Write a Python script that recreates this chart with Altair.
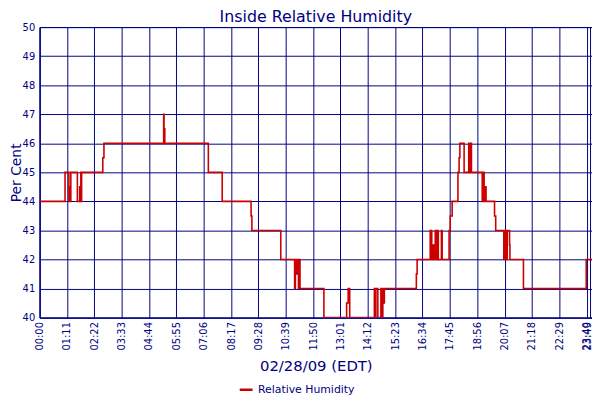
import altair as alt
import pandas as pd

NAVY = "#000080"
RED = "#cc0000"

tick_labels = ["00:00", "01:11", "02:22", "03:33", "04:44", "05:55", "07:06",
               "08:17", "09:28", "10:39", "11:50", "13:01", "14:12", "15:23",
               "16:34", "17:45", "18:56", "20:07", "21:18", "22:29", "23:40", "23:49"]
y_ticks = list(range(40, 51))

# minutes after midnight at which the reading changes
minutes = [0, 66, 76, 79, 80, 81, 98, 104, 105, 107, 108, 109, 164, 167, 322, 323,
           324, 325, 438, 474, 549, 551, 626, 662, 664, 666, 668, 672, 674, 676,
           738, 797, 801, 805, 869, 871, 873, 878, 886, 889, 891, 893, 895, 978,
           980, 1014, 1018, 1022, 1024, 1027, 1031, 1033, 1035, 1043, 1045, 1063,
           1066, 1071, 1086, 1089, 1091, 1102, 1114, 1117, 1119, 1121, 1149, 1152,
           1154, 1157, 1159, 1181, 1184, 1205, 1208, 1211, 1214, 1220, 1221, 1256,
           1419, 1434]
humidity = [44, 45, 44, 44.5, 44, 45, 44, 44.5, 44, 45, 44, 45, 45.5, 46, 47, 46,
            46.5, 46, 45, 44, 43.5, 43, 42, 41, 42, 41.5, 42, 41, 42, 41,
            40, 40.5, 41, 40, 41, 40, 41, 40, 41, 40, 41, 40.5, 41, 41.5,
            42, 43, 42, 42.5, 42, 43, 42, 43, 42, 43, 42, 43,
            43.5, 44, 45, 45.5, 46, 45, 46, 45, 46, 45, 44, 45,
            44, 44.5, 44, 43.5, 43, 42, 43, 42, 43, 42.5, 42, 41,
            42, 42]

tick_values = [int(t[:2]) * 60 + int(t[3:]) for t in tick_labels]
last_tick = tick_values[-1]

df = pd.DataFrame({"t": minutes, "v": humidity, "series": "Relative Humidity"})

label_expr = ("pad(''+floor(datum.value/60), 2, '0', 'left') + ':' + "
              "pad(''+(datum.value%60), 2, '0', 'left')")

chart = alt.Chart(df).mark_line(interpolate="step-after", strokeWidth=1.6, clip=True).encode(
    x=alt.X("t:Q",
            scale=alt.Scale(domain=[0, 1434], nice=False, zero=False),
            axis=alt.Axis(values=tick_values, labelExpr=label_expr, labelAngle=270,
                          labelAlign="right", labelBaseline="middle", ticks=False,
                          labelPadding=4, labelOverlap=False, labelFlush=False,
                          labelOffset={"condition": {"test": f"datum.value == {last_tick}",
                                                     "value": -3}, "value": 0},
                          labelFontSize=10, labelColor=NAVY,
                          grid=True, gridColor=NAVY, gridWidth=1, gridOpacity=1,
                          domainColor=NAVY, domainWidth=1,
                          title="02/28/09 (EDT)", titleFontSize=15, titleColor=NAVY,
                          titleFontWeight="normal", titlePadding=9)),
    y=alt.Y("v:Q",
            scale=alt.Scale(domain=[40, 50], nice=False, zero=False),
            axis=alt.Axis(values=y_ticks, ticks=False, labelPadding=5,
                          labelFontSize=10, labelColor=NAVY,
                          grid=True, gridColor=NAVY, gridWidth=1, gridOpacity=1,
                          domainColor=NAVY, domainWidth=1,
                          title="Per Cent", titleFontSize=14, titleColor=NAVY,
                          titleFontWeight="normal", titleX=-19, titleY=147,
                          titleBaseline="alphabetic", titleAlign="center")),
    color=alt.Color("series:N",
                    scale=alt.Scale(domain=["Relative Humidity"], range=[RED]),
                    legend=alt.Legend(title=None, orient="none", legendX=201, legendY=359,
                                      direction="horizontal", labelFontSize=11,
                                      labelColor=NAVY, symbolType="stroke",
                                      symbolSize=169, symbolStrokeWidth=2.5,
                                      labelOffset=4)),
).properties(
    width=559,
    height=294,
    title=alt.TitleParams("Inside Relative Humidity", fontSize=16, color=NAVY,
                          fontWeight="normal", anchor="middle", offset=4,
                          baseline="alphabetic", dy=20),
    autosize=alt.AutoSizeParams(type="none"),
    padding={"left": 32, "top": 17, "right": 0, "bottom": 76},
).configure(
    font="DejaVu Sans",
).configure_view(
    stroke=NAVY, strokeWidth=1,
)

chart.save("out.html", embed_options={"renderer": "svg", "actions": False})
